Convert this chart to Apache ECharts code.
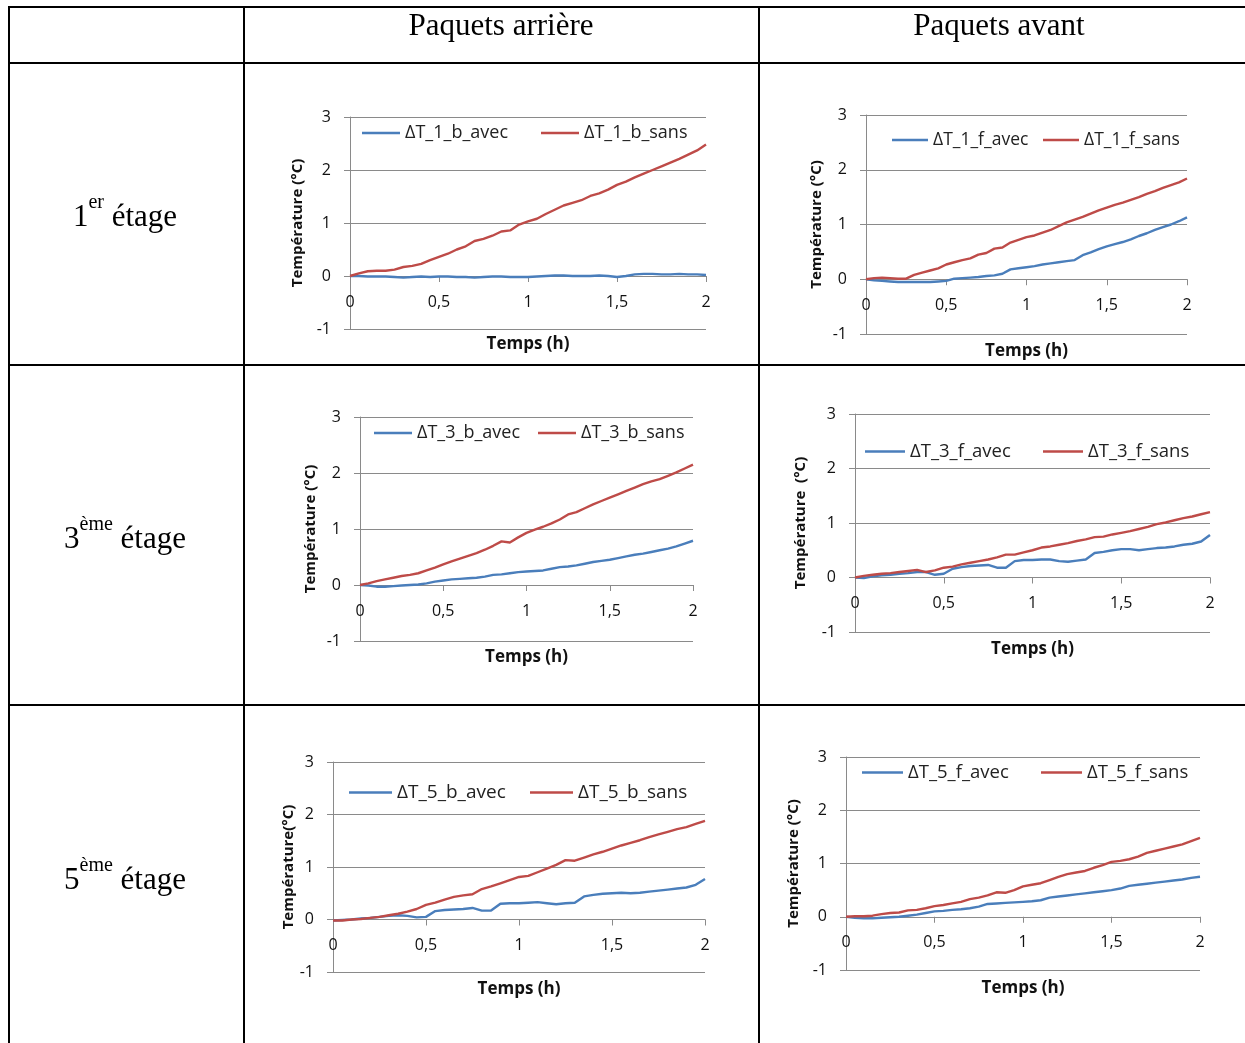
<!DOCTYPE html>
<html><head><meta charset="utf-8">
<script src="https://cdn.jsdelivr.net/npm/echarts@6/dist/echarts.min.js"></script>
<style>html,body{margin:0;padding:0;background:#fff}#c{width:1245px;height:1043px}</style>
</head><body><div id="c"></div>
<script>
// ---- data ----
const colHeaders = ['Paquets arrière', 'Paquets avant'];
const rowLabels = [['1', 'er'], ['3', 'ème'], ['5', 'ème']];
const xTicks = [0, 0.5, 1, 1.5, 2];
const yTicks = [-1, 0, 1, 2, 3];
const xTitle = 'Temps (h)';
const yTitles = ['Température (°C)', 'Température (°C)', 'Température (°C)', 'Température  (°C)', 'Température(°C)', 'Température (°C)'];
const time = [0,0.05,0.1,0.15,0.2,0.25,0.3,0.35,0.4,0.45,0.5,0.55,0.6,0.65,0.7,0.75,0.8,0.85,0.9,0.95,1,1.05,1.1,1.15,1.2,1.25,1.3,1.35,1.4,1.45,1.5,1.55,1.6,1.65,1.7,1.75,1.8,1.85,1.9,1.95,2];

const names1b = ['ΔT_1_b_avec', 'ΔT_1_b_sans'];
const names1f = ['ΔT_1_f_avec', 'ΔT_1_f_sans'];
const names3b = ['ΔT_3_b_avec', 'ΔT_3_b_sans'];
const names3f = ['ΔT_3_f_avec', 'ΔT_3_f_sans'];
const names5b = ['ΔT_5_b_avec', 'ΔT_5_b_sans'];
const names5f = ['ΔT_5_f_avec', 'ΔT_5_f_sans'];

const s1bAvec = [0,0,-0.01,-0.01,-0.01,-0.02,-0.03,-0.02,-0.01,-0.02,-0.01,-0.01,-0.02,-0.02,-0.03,-0.02,-0.01,-0.01,-0.02,-0.02,-0.02,-0.01,0,0.01,0.01,0,0,0,0.01,0,-0.02,0,0.03,0.04,0.04,0.03,0.03,0.04,0.03,0.03,0.02];
const s1bSans = [0,0.05,0.09,0.1,0.1,0.12,0.17,0.19,0.23,0.3,0.36,0.42,0.5,0.56,0.66,0.7,0.76,0.84,0.86,0.97,1.03,1.08,1.17,1.25,1.33,1.38,1.43,1.51,1.56,1.63,1.72,1.78,1.86,1.93,2,2.07,2.14,2.21,2.29,2.37,2.48];
const s1fAvec = [0,-0.02,-0.03,-0.04,-0.05,-0.05,-0.05,-0.05,-0.05,-0.04,-0.03,0.01,0.02,0.03,0.04,0.06,0.07,0.1,0.18,0.2,0.22,0.24,0.27,0.29,0.31,0.33,0.35,0.44,0.49,0.55,0.6,0.64,0.68,0.73,0.79,0.84,0.9,0.95,1,1.06,1.13];
const s1fSans = [0,0.02,0.03,0.02,0.01,0.01,0.08,0.12,0.16,0.2,0.27,0.31,0.35,0.38,0.45,0.48,0.56,0.58,0.67,0.72,0.77,0.8,0.85,0.9,0.97,1.04,1.09,1.14,1.2,1.26,1.31,1.36,1.4,1.45,1.5,1.56,1.61,1.67,1.72,1.77,1.84];
const s3bAvec = [0,-0.01,-0.03,-0.03,-0.02,-0.01,0,0.01,0.03,0.06,0.08,0.1,0.11,0.12,0.13,0.15,0.18,0.19,0.21,0.23,0.24,0.25,0.26,0.29,0.32,0.33,0.35,0.38,0.41,0.43,0.45,0.48,0.51,0.54,0.56,0.59,0.62,0.65,0.69,0.74,0.79];
const s3bSans = [0,0.03,0.07,0.1,0.13,0.16,0.18,0.21,0.26,0.31,0.37,0.42,0.47,0.52,0.57,0.63,0.7,0.78,0.76,0.85,0.93,0.99,1.04,1.1,1.17,1.26,1.3,1.37,1.44,1.5,1.56,1.62,1.68,1.74,1.8,1.85,1.89,1.95,2.01,2.08,2.15];
const s3fAvec = [0,-0.01,0.02,0.04,0.05,0.07,0.08,0.1,0.1,0.05,0.07,0.16,0.19,0.21,0.22,0.23,0.18,0.18,0.3,0.32,0.32,0.33,0.33,0.3,0.29,0.31,0.33,0.45,0.47,0.5,0.52,0.52,0.5,0.52,0.54,0.55,0.57,0.6,0.62,0.66,0.78];
const s3fSans = [0,0.03,0.05,0.07,0.08,0.1,0.12,0.14,0.1,0.13,0.18,0.2,0.24,0.27,0.3,0.33,0.37,0.42,0.42,0.46,0.5,0.55,0.57,0.6,0.63,0.67,0.7,0.74,0.75,0.79,0.82,0.85,0.89,0.93,0.98,1.01,1.05,1.09,1.12,1.16,1.2];
const s5bAvec = [-0.02,-0.01,0,0.02,0.03,0.05,0.07,0.08,0.07,0.04,0.05,0.16,0.18,0.19,0.2,0.22,0.17,0.17,0.3,0.31,0.31,0.32,0.33,0.31,0.29,0.31,0.32,0.44,0.47,0.49,0.5,0.51,0.5,0.51,0.53,0.55,0.57,0.59,0.61,0.66,0.77];
const s5bSans = [-0.02,-0.02,0,0.01,0.03,0.05,0.08,0.11,0.15,0.2,0.28,0.32,0.38,0.43,0.46,0.48,0.58,0.63,0.69,0.75,0.81,0.83,0.9,0.97,1.04,1.13,1.12,1.18,1.24,1.29,1.35,1.41,1.46,1.51,1.57,1.62,1.67,1.72,1.76,1.82,1.88];
const s5fAvec = [0,-0.02,-0.03,-0.03,-0.02,-0.01,0,0.02,0.04,0.07,0.1,0.11,0.13,0.14,0.16,0.19,0.24,0.25,0.26,0.27,0.28,0.29,0.31,0.36,0.38,0.4,0.42,0.44,0.46,0.48,0.5,0.53,0.58,0.6,0.62,0.64,0.66,0.68,0.7,0.73,0.75];
const s5fSans = [0,0.01,0.01,0.02,0.05,0.07,0.08,0.12,0.13,0.16,0.2,0.22,0.25,0.28,0.33,0.36,0.4,0.46,0.45,0.5,0.57,0.6,0.63,0.69,0.75,0.8,0.83,0.86,0.92,0.97,1.03,1.05,1.08,1.13,1.2,1.24,1.28,1.32,1.36,1.42,1.48];

// ---- layout / style ----
const BLUE = '#4a7ebb', RED = '#be4b48', GRIDC = '#8a8a8a';
const FONT = '"Open Sans", "Noto Sans", sans-serif';
const panels = [
  {names: names1b, vals: [s1bAvec, s1bSans], grid: {left: 350, top: 117, width: 356, height: 212}, leg: [[362, 132], [541, 132]], xGap: 61, yGap: 45, lf: 18},
  {names: names1f, vals: [s1fAvec, s1fSans], grid: {left: 866, top: 115, width: 321, height: 219}, leg: [[892, 139], [1043, 139]], xGap: 64, yGap: 42, lf: 17.5},
  {names: names3b, vals: [s3bAvec, s3bSans], grid: {left: 360, top: 417, width: 333, height: 224}, leg: [[374, 432], [538, 432]], xGap: 65, yGap: 42, lf: 18},
  {names: names3f, vals: [s3fAvec, s3fSans], grid: {left: 855, top: 414, width: 355, height: 218}, leg: [[865, 450], [1043, 450]], xGap: 64, yGap: 47, lf: 18.5},
  {names: names5b, vals: [s5bAvec, s5bSans], grid: {left: 333, top: 762, width: 372, height: 210}, leg: [[349, 791], [530, 791]], xGap: 62, yGap: 36, lf: 19},
  {names: names5f, vals: [s5fAvec, s5fSans], grid: {left: 846, top: 757, width: 354, height: 213}, leg: [[862, 771], [1041, 771]], xGap: 64, yGap: 45, lf: 18.5}
];
const legLen = [38, 36, 38, 40, 43, 41];

const yMin = yTicks[0], yMax = yTicks[yTicks.length - 1];
const grids = [], xAxes = [], yAxes = [], series = [], legends = [];
panels.forEach((p, i) => {
  grids.push(Object.assign({containLabel: false}, p.grid));
  // place the x axis (line, ticks, labels, title) on the y = 0 line
  const zeroOffset = -p.grid.height * (0 - yMin) / (yMax - yMin);
  xAxes.push({
    type: 'value', gridIndex: i, min: xTicks[0], max: xTicks[xTicks.length - 1], interval: 0.5,
    position: 'bottom', offset: zeroOffset,
    axisLine: {show: true, onZero: false, lineStyle: {color: GRIDC, width: 1}},
    axisTick: {show: true, length: 6, lineStyle: {color: GRIDC}},
    splitLine: {show: false},
    axisLabel: {color: '#111', fontFamily: FONT, fontSize: 16, margin: 18,
      formatter: v => String(v).replace('.', ',')},
    name: xTitle, nameLocation: 'middle', nameGap: p.xGap - 1,
    nameTextStyle: {fontFamily: FONT, fontSize: 17, fontWeight: 'bold', color: '#111'}
  });
  yAxes.push({
    type: 'value', gridIndex: i, min: yMin, max: yMax, interval: 1,
    axisLine: {show: true, lineStyle: {color: GRIDC, width: 1}},
    axisTick: {show: true, length: 6, lineStyle: {color: GRIDC}},
    splitLine: {show: true, lineStyle: {color: GRIDC, width: 1}},
    axisLabel: {color: '#111', fontFamily: FONT, fontSize: 16, margin: 19},
    name: yTitles[i], nameLocation: 'middle', nameGap: p.yGap,
    nameTextStyle: {fontFamily: FONT, fontSize: 15, fontWeight: 'bold', color: '#111'}
  });
  p.names.forEach((nm, k) => {
    series.push({
      type: 'line', name: nm, xAxisIndex: i, yAxisIndex: i,
      data: time.map((t, j) => [t, p.vals[k][j]]),
      showSymbol: false, symbol: 'none', animation: false,
      lineStyle: {width: 2.4, color: k === 0 ? BLUE : RED},
      itemStyle: {color: k === 0 ? BLUE : RED}
    });
    legends.push({
      data: [nm], left: p.leg[k][0], top: p.leg[k][1] - 8, padding: 0,
      icon: 'rect', itemWidth: legLen[i], itemHeight: 2.5, itemGap: 0,
      textStyle: {fontFamily: FONT, fontSize: p.lf, color: '#222', padding: [0, 0, 0, 0]},
      selectedMode: false
    });
  });
});

// ---- table ----
const LW = 2;
const hLines = [7, 63, 365, 705];
const vLines = [9, 244, 759];
const graphic = [];
hLines.forEach(y => graphic.push({type: 'line', silent: true, shape: {x1: 8, y1: y, x2: 1245, y2: y}, style: {stroke: '#000', lineWidth: LW}}));
vLines.forEach(x => graphic.push({type: 'line', silent: true, shape: {x1: x, y1: 6, x2: x, y2: 1043}, style: {stroke: '#000', lineWidth: LW}}));
const SERIF = '"Liberation Serif", "Times New Roman", serif';
const hdrX = [501, 999];
colHeaders.forEach((t, i) => graphic.push({type: 'text', silent: true, x: hdrX[i], y: 27,
  style: {text: t, font: '31px ' + SERIF, fill: '#000', align: 'center', verticalAlign: 'middle'}}));
const rowY = [213, 535, 876];
rowLabels.forEach((r, i) => graphic.push({type: 'text', silent: true, x: 125, y: rowY[i],
  style: {
    text: '{n|' + r[0] + '}{s|' + r[1] + '}{n| étage}',
    align: 'center', verticalAlign: 'middle',
    rich: {
      n: {fontFamily: SERIF, fontSize: 31, lineHeight: 40, fill: '#000', verticalAlign: 'bottom'},
      s: {fontFamily: SERIF, fontSize: 20, lineHeight: 20, fill: '#000', verticalAlign: 'top'}
    }
  }}));

const chart = echarts.init(document.getElementById('c'), null, {renderer: 'canvas'});
chart.setOption({
  backgroundColor: '#fff', animation: false,
  grid: grids, xAxis: xAxes, yAxis: yAxes, series: series, legend: legends, graphic: graphic
});
</script></body></html>
